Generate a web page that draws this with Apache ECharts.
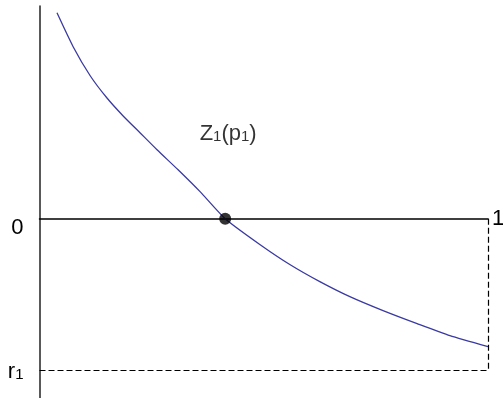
<!DOCTYPE html>
<html>
<head>
<meta charset="utf-8">
<script src="https://cdn.jsdelivr.net/npm/echarts@6/dist/echarts.min.js"></script>
<style>
  html, body { margin: 0; padding: 0; background: #fff; }
  #chart { width: 503px; height: 398px; }
</style>
</head>
<body>
<div id="chart"></div>
<script>
// Curve Z1(p) over p in [0, 1]
const curveP = [0.039, 0.075, 0.113, 0.150, 0.186, 0.224, 0.262, 0.309, 0.358, 0.414, 0.492, 0.559, 0.625, 0.692, 0.766, 0.842, 0.915, 1.0];
const curveZ = [1.355, 1.132, 0.941, 0.796, 0.678, 0.566, 0.454, 0.322, 0.178, 0, -0.171, -0.303, -0.414, -0.513, -0.605, -0.691, -0.770, -0.842];

// Root p1 where Z1 crosses zero, and the lower level r1
const rootP = [0.414];
const rootZ = [0];
const r1Level = -1;
const pEnd = 1;

// Axis tick labels
const yTickValues = [0, r1Level];
const xEndLabel = '1';

const font = "'Liberation Sans', Arial, sans-serif";
const mainSize = 22;
const subSize = 15;

const richText = {
  m: { fontSize: mainSize, fontFamily: font, color: '#000', verticalAlign: 'bottom', lineHeight: 24 },
  s: { fontSize: subSize, fontFamily: font, color: '#000', verticalAlign: 'bottom', lineHeight: 21 }
};

const chart = echarts.init(document.getElementById('chart'), null, { renderer: 'canvas' });

chart.setOption({
  animation: false,
  backgroundColor: '#fff',
  grid: { left: 39.5, right: 15, top: 6, bottom: 0, containLabel: false, outerBoundsMode: 'none' },
  xAxis: {
    type: 'value',
    min: 0,
    max: pEnd,
    axisLine: { show: true, onZero: true, lineStyle: { color: '#000', width: 1.5 } },
    axisTick: { show: false },
    axisLabel: { show: false },
    splitLine: { show: false },
    name: xEndLabel,
    nameLocation: 'end',
    nameGap: 4,
    nameTextStyle: { color: '#000', fontSize: mainSize, fontFamily: font, verticalAlign: 'middle', padding: [14, 0, 0, 0] }
  },
  yAxis: {
    type: 'value',
    min: -1.18,
    max: 1.4,
    axisLine: { show: true, onZero: false, lineStyle: { color: '#222', width: 1.5 } },
    axisTick: { show: false },
    splitLine: { show: false },
    axisLabel: {
      show: true,
      customValues: yTickValues,
      margin: 16,
      color: '#000',
      fontSize: mainSize,
      fontFamily: font,
      formatter: function (v) { return v === 0 ? '{z|0}' : '{m|r}{s|1}'; },
      rich: Object.assign({
        z: { fontSize: mainSize, fontFamily: font, color: '#000', padding: [18, 0, 0, 0] }
      }, richText)
    }
  },
  series: [
    {
      type: 'line',
      data: curveP.map((p, i) => [p, curveZ[i]]),
      smooth: 0.2,
      showSymbol: false,
      symbol: 'none',
      lineStyle: { color: '#3a3aa2', width: 1.3 },
      markLine: {
        silent: true,
        symbol: 'none',
        label: { show: false },
        lineStyle: { color: '#000', width: 1.2, type: [6, 3] },
        data: [
          [{ coord: [pEnd, 0] }, { coord: [pEnd, r1Level] }],
          [{ coord: [0, r1Level] }, { coord: [pEnd, r1Level] }]
        ]
      },
      z: 3
    },
    {
      type: 'scatter',
      data: rootP.map((p, i) => [p, rootZ[i]]),
      symbolSize: 12,
      itemStyle: { color: '#000' },
      label: {
        show: true,
        position: 'top',
        distance: 68,
        offset: [3, 0],
        formatter: '{m|Z}{s|1}{m|(p}{s|1}{m|)}',
        rich: richText
      },
      z: 5
    }
  ]
});
</script>
</body>
</html>
